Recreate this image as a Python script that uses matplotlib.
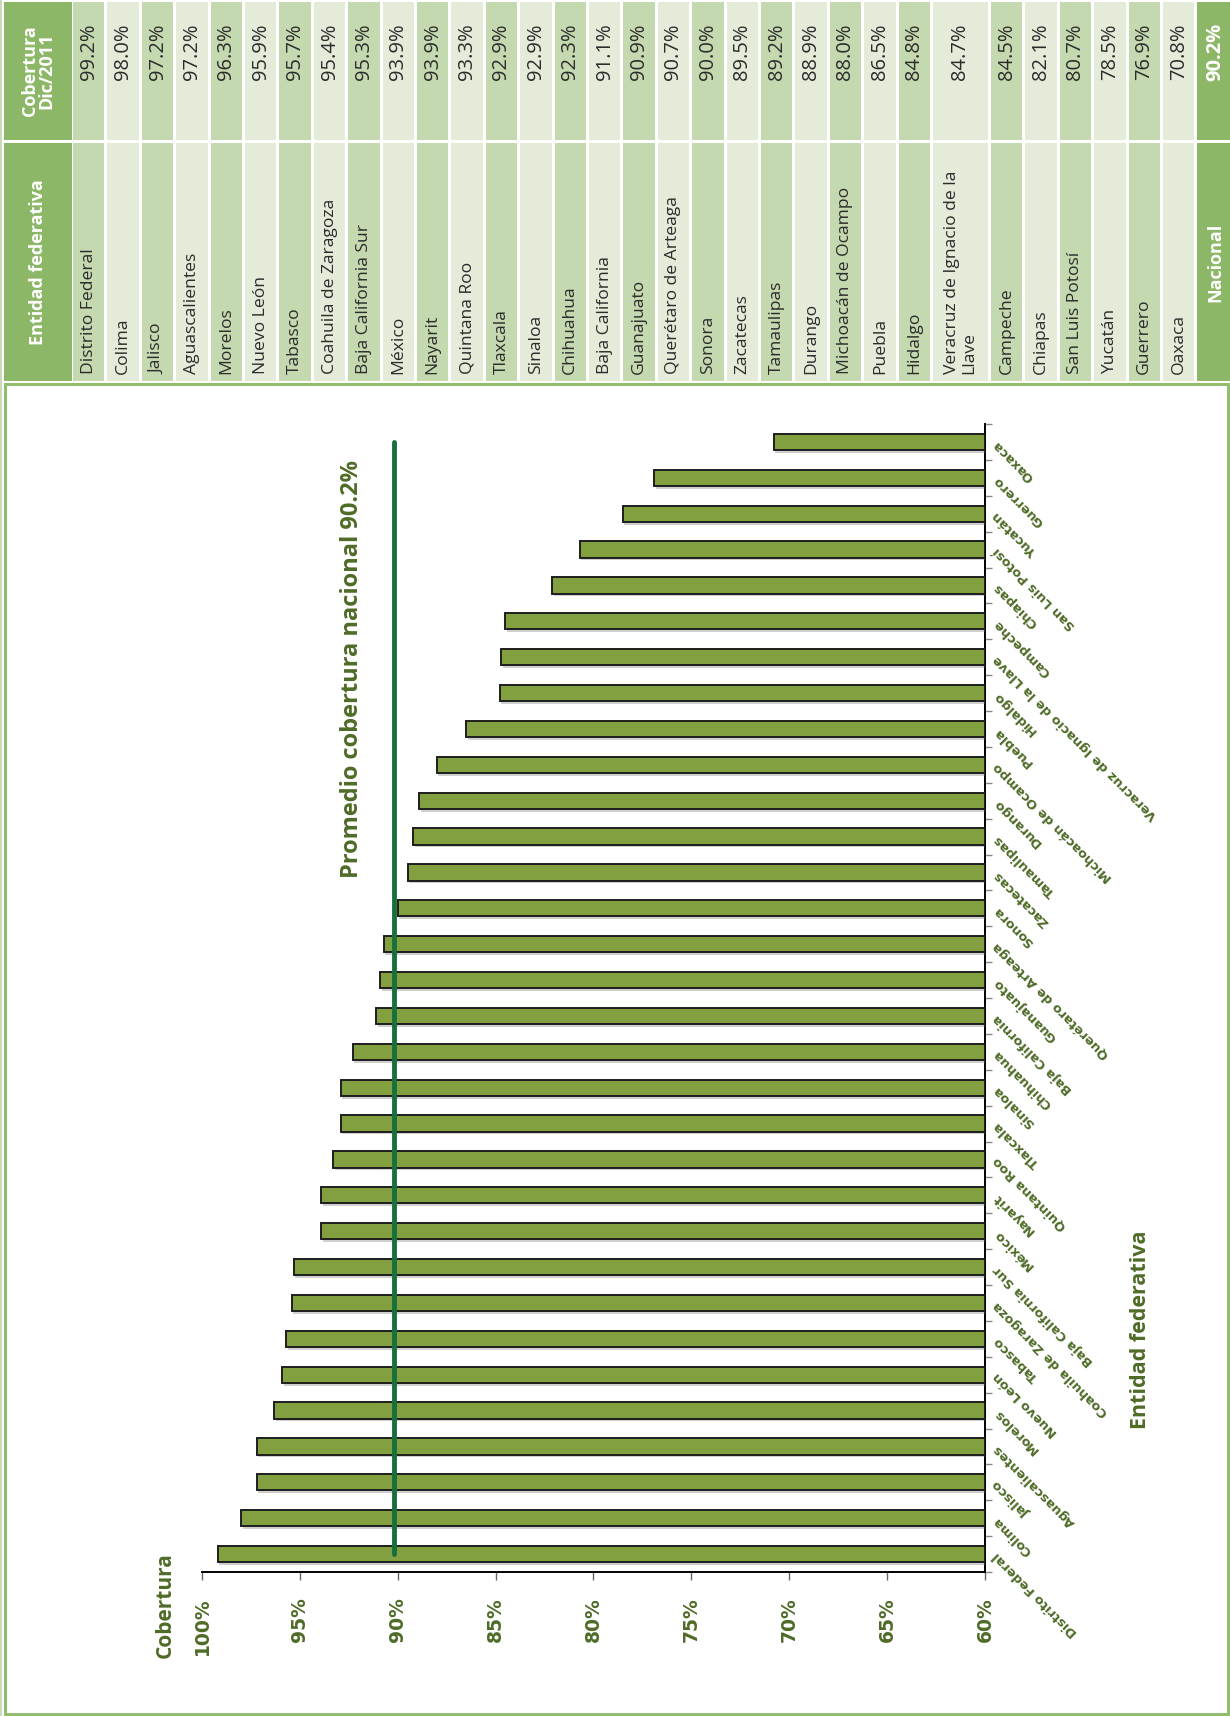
import matplotlib
matplotlib.use("Agg")
import matplotlib.pyplot as plt
from matplotlib.patches import Rectangle
from matplotlib import patheffects as pe
import numpy as np

# ---------------- data ----------------
estados = ["Distrito Federal", "Colima", "Jalisco", "Aguascalientes", "Morelos",
           "Nuevo León", "Tabasco", "Coahuila de Zaragoza", "Baja California Sur",
           "México", "Nayarit", "Quintana Roo", "Tlaxcala", "Sinaloa", "Chihuahua",
           "Baja California", "Guanajuato", "Querétaro de Arteaga", "Sonora",
           "Zacatecas", "Tamaulipas", "Durango", "Michoacán de Ocampo", "Puebla",
           "Hidalgo", "Veracruz de Ignacio de la Llave", "Campeche", "Chiapas",
           "San Luis Potosí", "Yucatán", "Guerrero", "Oaxaca"]
cobertura = [99.2, 98.0, 97.2, 97.2, 96.3, 95.9, 95.7, 95.4, 95.3, 93.9, 93.9,
             93.3, 92.9, 92.9, 92.3, 91.1, 90.9, 90.7, 90.0, 89.5, 89.2, 88.9,
             88.0, 86.5, 84.8, 84.7, 84.5, 82.1, 80.7, 78.5, 76.9, 70.8]
nacional = 90.2
x_ticks = [60, 65, 70, 75, 80, 85, 90, 95, 100]
x_tick_labels = ["60%", "65%", "70%", "75%", "80%", "85%", "90%", "95%", "100%"]
table_names = [n if n != "Veracruz de Ignacio de la Llave" else "Veracruz de Ignacio de la\nLlave"
               for n in estados]

# ---------------- style ----------------
W, H = 1230, 1716
GREEN_HDR = "#8bb766"
CELL_DARK = "#c5d9b0"
CELL_LIGHT = "#e4ecd9"
TXT = "#2b2b2b"
OLIVE = "#4e6b27"
BAR = "#82a03f"
AVG = "#17703c"
TFONT = ["Open Sans", "DejaVu Sans"]

fig = plt.figure(figsize=(W / 100, H / 100), dpi=100)
bg = fig.add_axes([0, 0, 1, 1])
bg.set_xlim(0, W)
bg.set_ylim(H, 0)
bg.axis("off")

# ---------------- table ----------------
gap = 3.0
val_top, val_bot = 2.0, 140.0
nam_top, nam_bot = 143.0, 381.0
# header column
hx0, hx1 = 4.0, 72.0
bg.add_patch(Rectangle((hx0, val_top), hx1 - hx0, val_bot - val_top, fc=GREEN_HDR, ec="none"))
bg.add_patch(Rectangle((hx0, nam_top), hx1 - hx0, nam_bot - nam_top, fc=GREEN_HDR, ec="none"))
bg.text((hx0 + hx1) / 2, (val_top + val_bot) / 2, "Cobertura\nDic/2011", rotation=90,
        ha="center", va="center", multialignment="center", color="white",
        fontsize=13, fontweight="bold", family=TFONT, linespacing=0.92)
bg.text((hx0 + hx1) / 2, (nam_top + nam_bot) / 2, "Entidad federativa", rotation=90,
        ha="center", va="center", color="white", fontsize=13, fontweight="bold", family=TFONT)

pitch = [34.4] * len(estados)
pitch[estados.index("Veracruz de Ignacio de la Llave")] = 58.0
x = 73.0
for i, (name, val) in enumerate(zip(table_names, cobertura)):
    w = pitch[i] - gap
    fc = CELL_DARK if i % 2 == 0 else CELL_LIGHT
    bg.add_patch(Rectangle((x, val_top), w, val_bot - val_top, fc=fc, ec="none"))
    bg.add_patch(Rectangle((x, nam_top), w, nam_bot - nam_top, fc=fc, ec="none"))
    bg.text(x + w / 2, 23, f"{val:.1f}%", rotation=90, ha="center", va="top",
            color=TXT, fontsize=14.5, family=TFONT)
    bg.text(x + w / 2, 374, name, rotation=90, ha="center", va="bottom",
            multialignment="left", color=TXT, fontsize=12.6, family=TFONT, linespacing=1.05)
    x += pitch[i]
# nacional column
bg.add_patch(Rectangle((x, val_top), W - x + 5, val_bot - val_top, fc=GREEN_HDR, ec="none"))
bg.add_patch(Rectangle((x, nam_top), W - x + 5, nam_bot - nam_top, fc=GREEN_HDR, ec="none"))
bg.text(x + 17.5, 23, f"{nacional:.1f}%", rotation=90, ha="center", va="top",
        color="white", fontsize=14.5, fontweight="bold", family=TFONT)
bg.text(x + 17.5, (nam_top + nam_bot) / 2, "Nacional", rotation=90, ha="center", va="center",
        color="white", fontsize=13, fontweight="bold", family=TFONT)

# chart frame
bg.add_patch(Rectangle((5, 384), 1223, 1330, fc="none", ec="#93bd6e", lw=2.2))
bg.plot([1, 1], [0, H], color="#c9dbb9", lw=1.5)

# ---------------- chart ----------------
L, R, T, B = 202, 985, 424, 1572
ax = fig.add_axes([L / W, 1 - B / H, (R - L) / W, (B - T) / H])
ax.set_facecolor("none")
y = np.arange(len(estados))
vals = np.array(cobertura)
ax.barh(y, vals - 60, left=60, height=0.45, color=BAR, edgecolor="#1e1e1e", linewidth=1.4,
        zorder=3,
        path_effects=[pe.SimplePatchShadow(offset=(1, -2), shadow_rgbFace="#777777", alpha=0.35),
                      pe.Normal()])
ax.plot([nacional, nacional], [y[-1], y[0]], color=AVG, lw=3.5, solid_capstyle="round", zorder=4)

ax.set_xlim(100, 60)
ax.set_ylim(-0.5, len(estados) - 0.5)
for s in ("left", "top"):
    ax.spines[s].set_visible(False)
for s in ("bottom", "right"):
    ax.spines[s].set_color("black")
    ax.spines[s].set_linewidth(1.4)

ax.set_xticks(x_ticks)
ax.set_xticklabels(x_tick_labels, rotation=90, fontweight="bold", color=OLIVE,
                   fontsize=13.5, va="top", ha="center", family="DejaVu Sans")
ax.tick_params(axis="x", direction="out", length=6, width=1, color="#666666", pad=12)
ax.yaxis.tick_right()
ax.set_yticks(np.arange(-0.5, len(estados), 1.0))
ax.set_yticklabels([])
ax.tick_params(axis="y", direction="out", length=5, width=1, color="#888888")

for i, name in enumerate(estados):
    ax.text(1.013, y[i], name, transform=ax.get_yaxis_transform(), rotation=135,
            rotation_mode="anchor", ha="right", va="center", color=OLIVE,
            fontsize=9.3, fontweight="bold", family="DejaVu Sans")

bg.text(165, 1605, "Cobertura", rotation=90, ha="center", va="center", color=OLIVE,
        fontsize=15, fontweight="bold", family=TFONT)
bg.text(1141, 1330, "Entidad federativa", rotation=90, ha="center", va="center", color=OLIVE,
        fontsize=15.5, fontweight="bold", family=TFONT)
bg.text(352, 460, f"Promedio cobertura nacional {nacional:.1f}%", rotation=90, ha="center",
        va="top", color=OLIVE, fontsize=17, fontweight="bold", family=TFONT)

fig.savefig("out.png", dpi=100)
